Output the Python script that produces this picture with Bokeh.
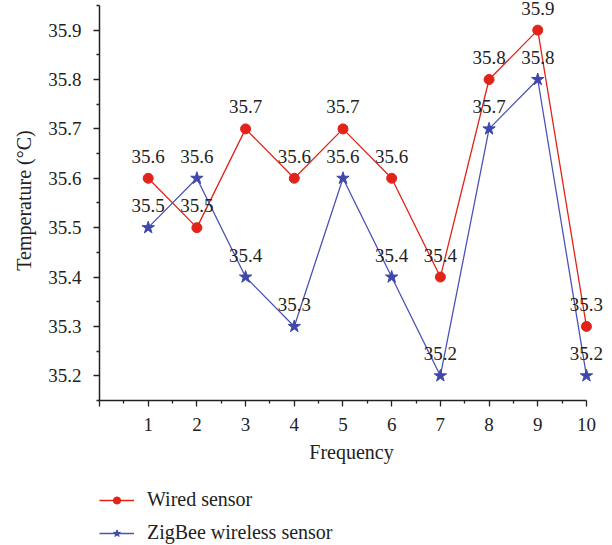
from bokeh.plotting import figure
from bokeh.layouts import column
from bokeh.models import Range1d, FixedTicker, PrintfTickFormatter, Legend, LegendItem, ColumnDataSource
from bokeh.core.properties import value
from bokeh.embed import file_html
from bokeh.resources import INLINE

frequency = [1, 2, 3, 4, 5, 6, 7, 8, 9, 10]
wired = [35.6, 35.5, 35.7, 35.6, 35.7, 35.6, 35.4, 35.8, 35.9, 35.3]
zigbee = [35.5, 35.6, 35.4, 35.3, 35.6, 35.4, 35.2, 35.7, 35.8, 35.2]
x_ticks = [0, 1, 2, 3, 4, 5, 6, 7, 8, 9, 10]
y_ticks = [35.2, 35.3, 35.4, 35.5, 35.6, 35.7, 35.8, 35.9]
series_names = ["Wired sensor", "ZigBee wireless sensor"]

FONT = "Liberation Serif"
RED = "#e2231a"
BLUE = "#3f48aa"
BLUE_LINE = "#4b54b5"

src_w = ColumnDataSource(dict(x=frequency, y=wired, t=[f"{v:.1f}" for v in wired]))
src_z = ColumnDataSource(dict(x=frequency, y=zigbee, t=[f"{v:.1f}" for v in zigbee]))

p = figure(width=604, height=470, x_range=Range1d(0, 10.35), y_range=Range1d(35.15, 35.96),
           output_backend="svg", toolbar_location=None,
           min_border_left=99, min_border_right=1, min_border_top=0, min_border_bottom=70)
p.outline_line_color = None
p.grid.visible = False

p.line("x", "y", source=src_w, line_color=RED, line_width=1.3)
p.scatter("x", "y", source=src_w, marker="circle", size=10, fill_color=RED, line_color=RED)
p.line("x", "y", source=src_z, line_color=BLUE_LINE, line_width=1.3)
p.scatter("x", "y", source=src_z, marker="star", size=13, fill_color=BLUE, line_color=BLUE)

for src in (src_w, src_z):
    p.text("x", "y", text="t", source=src, text_align="center", text_baseline="alphabetic",
           y_offset=-22, text_font=value(FONT), text_font_size="19px", text_color="#222222")

xa = p.xaxis[0]
xa.bounds = (0, 10)
xa.ticker = FixedTicker(ticks=x_ticks, minor_ticks=[v + 0.5 for v in x_ticks[:-1]])
xa.major_label_overrides = {0: ""}
xa.axis_label = "Frequency"
ya = p.yaxis[0]
ya.bounds = (35.15, 35.95)
ya.ticker = FixedTicker(ticks=y_ticks, minor_ticks=[round(35.15 + 0.1 * i, 2) for i in range(9)])
ya.formatter = PrintfTickFormatter(format="%.1f")
ya.axis_label = "Temperature (°C)"

for ax in (xa, ya):
    ax.axis_line_color = "#222222"
    ax.axis_line_width = 1.5
    ax.major_tick_line_color = "#222222"
    ax.minor_tick_line_color = "#222222"
    ax.major_tick_line_width = 1.3
    ax.minor_tick_line_width = 1.3
    ax.major_tick_in = 0
    ax.major_tick_out = 6
    ax.minor_tick_in = 0
    ax.minor_tick_out = 3
    ax.major_label_text_font = FONT
    ax.major_label_text_font_size = "19px"
    ax.major_label_text_color = "#222222"
    ax.axis_label_text_font = FONT
    ax.axis_label_text_font_size = "20px"
    ax.axis_label_text_font_style = "normal"
    ax.axis_label_text_color = "#222222"
xa.major_label_standoff = 11
xa.axis_label_standoff = 7
ya.major_label_standoff = 12
ya.axis_label_standoff = 10

# legend panel (renderers reuse the series data; the points fall outside this panel's ranges)
p2 = figure(width=604, height=75, x_range=Range1d(0, 1), y_range=Range1d(0, 1),
            output_backend="svg", toolbar_location=None,
            x_axis_location=None, y_axis_location=None,
            min_border_left=0, min_border_right=0, min_border_top=0, min_border_bottom=0)
p2.outline_line_color = None
p2.grid.visible = False
dl_w = p2.line("x", "y", source=src_w, line_color=RED, line_width=1.3)
ds_w = p2.scatter("x", "y", source=src_w, marker="circle", size=11, fill_color=RED, line_color=RED)
dl_z = p2.line("x", "y", source=src_z, line_color=BLUE_LINE, line_width=1.3)
ds_z = p2.scatter("x", "y", source=src_z, marker="star", size=14, fill_color=BLUE, line_color=BLUE)

legend = Legend(items=[LegendItem(label=series_names[0], renderers=[dl_w, ds_w]),
                       LegendItem(label=series_names[1], renderers=[dl_z, ds_z])],
                location=(0, 1), orientation="vertical",
                glyph_width=35, glyph_height=18, label_height=18, spacing=10,
                label_standoff=13, padding=0, margin=0,
                label_text_font=FONT, label_text_font_size="20px", label_text_color="#222222",
                border_line_color=None, background_fill_alpha=0)
p2.add_layout(legend, "center")

layout = column(p, p2, spacing=0)
open("out.html", "w").write(file_html(layout, INLINE))
